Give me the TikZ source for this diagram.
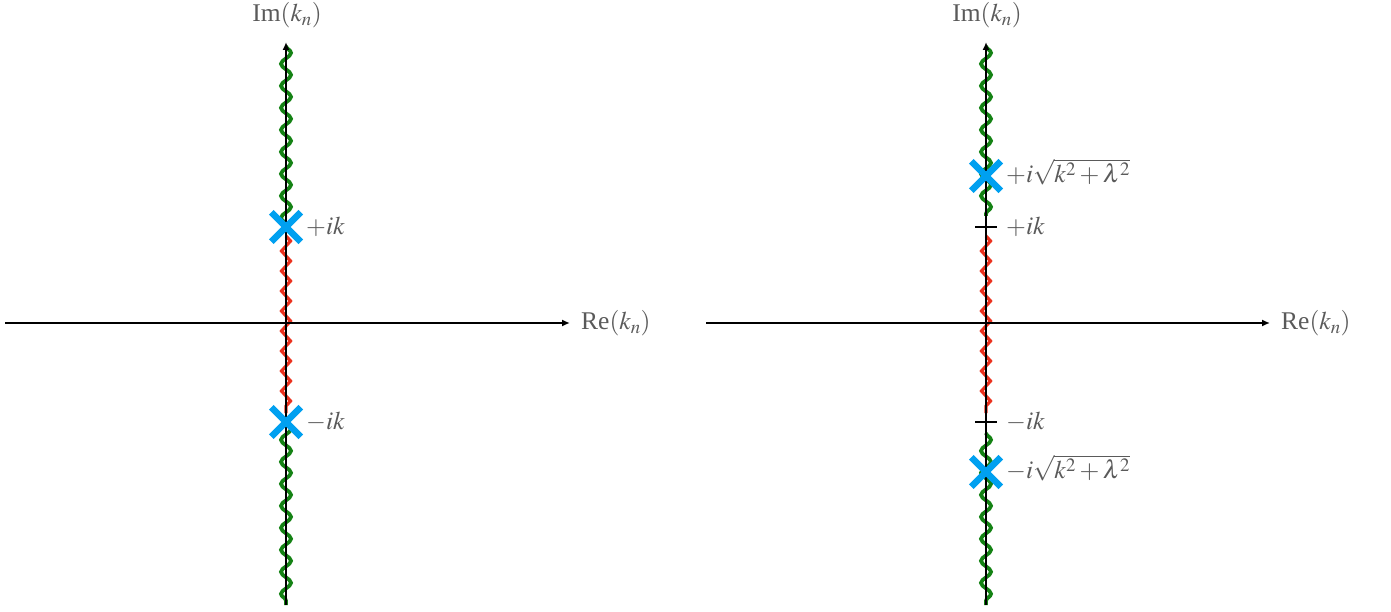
\documentclass[tikz,border=0pt]{standalone}
\usepackage{mathptmx}
\usepackage{fontspec}
\setmainfont{Liberation Serif}
\usetikzlibrary{decorations.pathmorphing,shapes.misc,arrows.meta}
\definecolor{crossblue}{RGB}{0,160,240}
\definecolor{wavegreen}{RGB}{20,130,20}
\definecolor{wavered}{RGB}{235,50,30}
\definecolor{labelgray}{RGB}{90,90,90}
\tikzset{
  axis/.style={line width=1.6pt, -{Latex[length=8pt,width=7pt]}},
  greenwave/.style={draw=wavegreen, line width=3.8pt, decorate, decoration={snake, amplitude=5pt, segment length=22pt}},
  redwave/.style={draw=wavered, line width=3.2pt, decorate, decoration={zigzag, amplitude=4.5pt, segment length=20pt}},
  pole/.style={cross out, draw=crossblue, line width=6.5pt, minimum size=23pt, inner sep=0pt},
  tick/.style={line width=1.4pt},
  lbl/.style={text=labelgray, font=\fontsize{25.5}{30}\selectfont, inner sep=1pt},
}
\begin{document}
\begin{tikzpicture}[x=1pt,y=-1pt]
\useasboundingbox (0,0) rectangle (1391,612);
% ---------- left panel ----------
\coordinate (Lbot) at (286,605);
\coordinate (Ltop) at (286,42);
\coordinate (Lwtop) at (286,46);
\coordinate (Lleft) at (5,323);
\coordinate (Lright) at (570,323);
\coordinate (Lp) at (286,227);
\coordinate (Lm) at (286,422);
\coordinate (Lrs) at (286,236);
\coordinate (Lre) at (286,413);
\draw[greenwave] (Lwtop) -- (Lp);
\draw[redwave] (Lrs) -- (Lre);
\draw[greenwave] (Lm) -- (Lbot);
\draw[axis] (Lbot) -- (Ltop);
\draw[axis] (Lleft) -- (Lright);
\node[pole] (LP) at (Lp) {};
\node[pole] (LM) at (Lm) {};
\node[lbl, anchor=west] (LPl) at (305,227) {$+ik$};
\node[lbl, anchor=west] (LMl) at (305,422) {$-ik$};
\node[lbl] (Lim) at (287,15) {Im$(k_n)$};
\node[lbl, anchor=west] (Lre) at (580,323) {Re$(k_n)$};
% ---------- right panel ----------
\coordinate (Rbot) at (986,605);
\coordinate (Rtop) at (986,42);
\coordinate (Rwtop) at (986,46);
\coordinate (Rleft) at (706,323);
\coordinate (Rright) at (1270,323);
\coordinate (Rp) at (986,227);
\coordinate (Rm) at (986,422);
\coordinate (Rrs) at (986,236);
\coordinate (Rre) at (986,413);
\coordinate (Rgs) at (986,216);
\coordinate (Rge) at (986,433);
\coordinate (Rpp) at (986,176);
\coordinate (Rmm) at (986,472);
\draw[greenwave] (Rwtop) -- (Rgs);
\draw[redwave] (Rrs) -- (Rre);
\draw[greenwave] (Rge) -- (Rbot);
\draw[axis] (Rbot) -- (Rtop);
\draw[axis] (Rleft) -- (Rright);
\draw[tick] ([xshift=-11pt]Rp) -- ([xshift=11pt]Rp);
\draw[tick] ([xshift=-11pt]Rm) -- ([xshift=11pt]Rm);
\node[pole] (RPP) at (Rpp) {};
\node[pole] (RMM) at (Rmm) {};
\node[lbl, anchor=west] (RPl) at (1005,227) {$+ik$};
\node[lbl, anchor=west] (RMl) at (1005,422) {$-ik$};
\node[lbl, anchor=west] (RPPl) at (1005,172) {$+i\sqrt{k^2+\lambda^2}$};
\node[lbl, anchor=west] (RMMl) at (1005,468) {$-i\sqrt{k^2+\lambda^2}$};
\node[lbl] (Rim) at (987,15) {Im$(k_n)$};
\node[lbl, anchor=west] (Rre) at (1280,323) {Re$(k_n)$};
\end{tikzpicture}
\end{document}
